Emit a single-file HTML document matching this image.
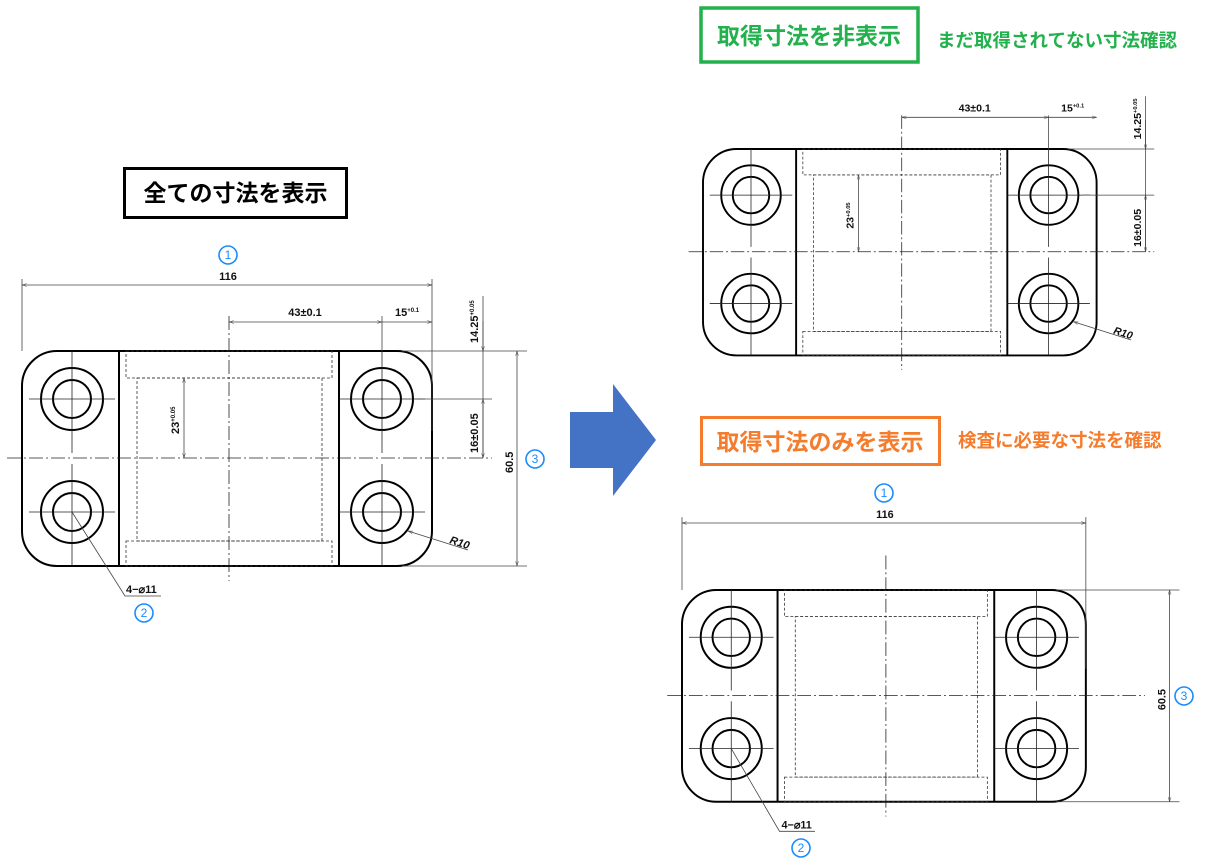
<!DOCTYPE html>
<html><head><meta charset="utf-8"><style>
body{margin:0;background:#fff;}
svg{display:block;font-family:"Liberation Sans","Noto Sans CJK JP",sans-serif;}
.b{fill:none;stroke:#000;stroke-width:2}
.t{fill:none;stroke:#222;stroke-width:0.8}
.c{fill:none;stroke:#222;stroke-width:0.8;stroke-dasharray:14 3 2 3}
.d{fill:none;stroke:#333;stroke-width:0.8;stroke-dasharray:3 2}
.dm{fill:none;stroke:#444;stroke-width:0.8}
.tx{font-size:11px;font-weight:bold;fill:#111}
.jp{font-weight:bold;font-family:"Liberation Sans","Noto Sans CJK JP",sans-serif}
.num circle{fill:#fff;stroke:#1a8cff;stroke-width:1.6}
.num text{fill:#1a8cff;font-size:12px;text-anchor:middle}
</style></head><body>
<svg width="1218" height="868" viewBox="0 0 1218 868">
<defs>
<marker id="a" viewBox="0 0 10 10" refX="10" refY="5" markerWidth="8" markerHeight="6" orient="auto-start-reverse"><path d="M0,2 L10,5 L0,8" fill="none" stroke="#444" stroke-width="1"/></marker>
<g id="h"><circle cx="0" cy="0" r="31" class="b"/><circle cx="0" cy="0" r="19" class="b"/><line x1="-43" y1="0" x2="43" y2="0" class="t"/><line x1="0" y1="-48" x2="0" y2="54" class="t"/></g>
<g id="part">
<rect x="0" y="0" width="410" height="215" rx="35" class="b"/>
<line x1="97" y1="0" x2="97" y2="215" class="b"/>
<line x1="317" y1="0" x2="317" y2="215" class="b"/>
<rect x="104" y="0" width="206" height="27" class="d"/>
<rect x="115" y="27" width="185" height="163" class="d"/>
<rect x="104" y="190" width="206" height="25" class="d"/>
<line x1="-15" y1="107" x2="470" y2="107" class="c"/>
<line x1="207" y1="-35" x2="207" y2="230" class="c"/>
<use href="#h" x="50" y="48"/><use href="#h" x="50" y="161"/>
<use href="#h" x="360" y="48"/><use href="#h" x="360" y="161"/>
</g>
</defs>

<!-- Left drawing -->
<g transform="translate(22,351)">
<use href="#part"/>
<line x1="0" y1="-72" x2="0" y2="0" class="dm"/><line x1="410" y1="-72" x2="410" y2="80" class="dm"/>
<line x1="0" y1="-66" x2="410" y2="-66" class="dm" marker-start="url(#a)" marker-end="url(#a)"/>
<text x="206" y="-71" class="tx" text-anchor="middle">116</text>
<line x1="360" y1="-35" x2="360" y2="0" class="dm"/>
<line x1="207" y1="-29" x2="360" y2="-29" class="dm" marker-start="url(#a)" marker-end="url(#a)"/>
<line x1="360" y1="-29" x2="410" y2="-29" class="dm" marker-end="url(#a)"/>
<text x="283" y="-35" class="tx" text-anchor="middle">43±0.1</text>
<text x="373" y="-35" class="tx">15<tspan font-size="6" dy="-4">+0.1</tspan></text>
<line x1="461" y1="-55" x2="461" y2="107" class="dm"/>
<line x1="461" y1="-30" x2="461" y2="0" class="dm" marker-end="url(#a)"/>
<line x1="461" y1="48" x2="461" y2="107" class="dm" marker-start="url(#a)" marker-end="url(#a)"/>
<line x1="380" y1="0" x2="505" y2="0" class="dm"/><line x1="395" y1="48" x2="470" y2="48" class="dm"/>
<line x1="380" y1="215" x2="505" y2="215" class="dm"/>
<text transform="translate(456,-8) rotate(-90)" class="tx">14.25<tspan font-size="6" dy="-4">+0.05</tspan></text>
<text transform="translate(456,102) rotate(-90)" class="tx">16±0.05</text>
<line x1="495" y1="0" x2="495" y2="215" class="dm" marker-start="url(#a)" marker-end="url(#a)"/>
<text transform="translate(491,122) rotate(-90)" class="tx">60.5</text>
<line x1="162" y1="27" x2="162" y2="107" class="dm" marker-start="url(#a)" marker-end="url(#a)"/>
<text transform="translate(157,83) rotate(-90)" class="tx">23<tspan font-size="6" dy="-4">+0.05</tspan></text>
<line x1="386" y1="180" x2="446" y2="199" class="dm" marker-start="url(#a)"/>
<text transform="translate(427,192) rotate(18)" class="tx" font-style="italic">R10</text>
<polyline points="50,161 103,245 139,245" class="dm"/>
<text x="104" y="242" class="tx">4−⌀11</text>
</g>

<!-- Top-right drawing -->
<g transform="translate(703,149) scale(0.96)">
<use href="#part"/>
<line x1="360" y1="-35" x2="360" y2="0" class="dm"/>
<line x1="207" y1="-33" x2="360" y2="-33" class="dm" marker-start="url(#a)" marker-end="url(#a)"/>
<line x1="360" y1="-33" x2="410" y2="-33" class="dm" marker-end="url(#a)"/>
<text x="283" y="-39" class="tx" text-anchor="middle">43±0.1</text>
<text x="373" y="-39" class="tx">15<tspan font-size="6" dy="-4">+0.1</tspan></text>
<line x1="461" y1="-55" x2="461" y2="107" class="dm"/>
<line x1="461" y1="-30" x2="461" y2="0" class="dm" marker-end="url(#a)"/>
<line x1="461" y1="48" x2="461" y2="107" class="dm" marker-start="url(#a)" marker-end="url(#a)"/>
<line x1="380" y1="0" x2="470" y2="0" class="dm"/><line x1="395" y1="48" x2="470" y2="48" class="dm"/>
<text transform="translate(456,-10) rotate(-90)" class="tx">14.25<tspan font-size="6" dy="-4">+0.05</tspan></text>
<text transform="translate(456,102) rotate(-90)" class="tx">16±0.05</text>
<line x1="162" y1="27" x2="162" y2="107" class="dm" marker-start="url(#a)" marker-end="url(#a)"/>
<text transform="translate(157,83) rotate(-90)" class="tx">23<tspan font-size="6" dy="-4">+0.05</tspan></text>
<line x1="386" y1="180" x2="446" y2="199" class="dm" marker-start="url(#a)"/>
<text transform="translate(427,192) rotate(18)" class="tx" font-style="italic">R10</text>
</g>

<!-- Bottom-right drawing -->
<g transform="translate(682,590) scale(0.985)">
<use href="#part"/>
<line x1="0" y1="-74" x2="0" y2="0" class="dm"/><line x1="410" y1="-74" x2="410" y2="80" class="dm"/>
<line x1="0" y1="-68" x2="410" y2="-68" class="dm" marker-start="url(#a)" marker-end="url(#a)"/>
<text x="206" y="-73" class="tx" text-anchor="middle">116</text>
<line x1="380" y1="0" x2="505" y2="0" class="dm"/><line x1="380" y1="215" x2="505" y2="215" class="dm"/>
<line x1="495" y1="0" x2="495" y2="215" class="dm" marker-start="url(#a)" marker-end="url(#a)"/>
<text transform="translate(491,122) rotate(-90)" class="tx">60.5</text>
<polyline points="50,161 99,245 135,245" class="dm"/>
<text x="101" y="242" class="tx">4−⌀11</text>
</g>

<!-- numbers -->
<g class="num">
<circle cx="228" cy="255" r="9"/><text x="228" y="259">1</text>
<circle cx="535" cy="459" r="9"/><text x="535" y="463">3</text>
<circle cx="144" cy="613" r="9"/><text x="144" y="617">2</text>
<circle cx="884" cy="493" r="9"/><text x="884" y="497">1</text>
<circle cx="1184" cy="696" r="9"/><text x="1184" y="700">3</text>
<circle cx="801" cy="848" r="9"/><text x="801" y="852">2</text>
</g>

<!-- arrow -->
<polygon points="570,412 613,412 613,384 656,440 613,496 613,468 570,468" fill="#4472c4"/>

<!-- titles -->
<rect x="124.5" y="168.5" width="222" height="49" fill="#fff" stroke="#000" stroke-width="3"/>
<text x="235.5" y="201" class="jp" font-size="23" text-anchor="middle" fill="#000">全ての寸法を表示</text>

<rect x="701" y="8" width="217" height="54" fill="#fff" stroke="#22b14c" stroke-width="3.5"/>
<text x="809" y="44" class="jp" font-size="23" text-anchor="middle" fill="#22b14c">取得寸法を非表示</text>
<text x="937" y="47" class="jp" font-size="18.5" fill="#22b14c">まだ取得されてない寸法確認</text>

<rect x="701.5" y="417.5" width="238" height="47" fill="#fff" stroke="#f47c2c" stroke-width="3"/>
<text x="820" y="450" class="jp" font-size="23" text-anchor="middle" fill="#f47c2c">取得寸法のみを表示</text>
<text x="958" y="447" class="jp" font-size="18.5" fill="#f47c2c">検査に必要な寸法を確認</text>
</svg>
</body></html>
